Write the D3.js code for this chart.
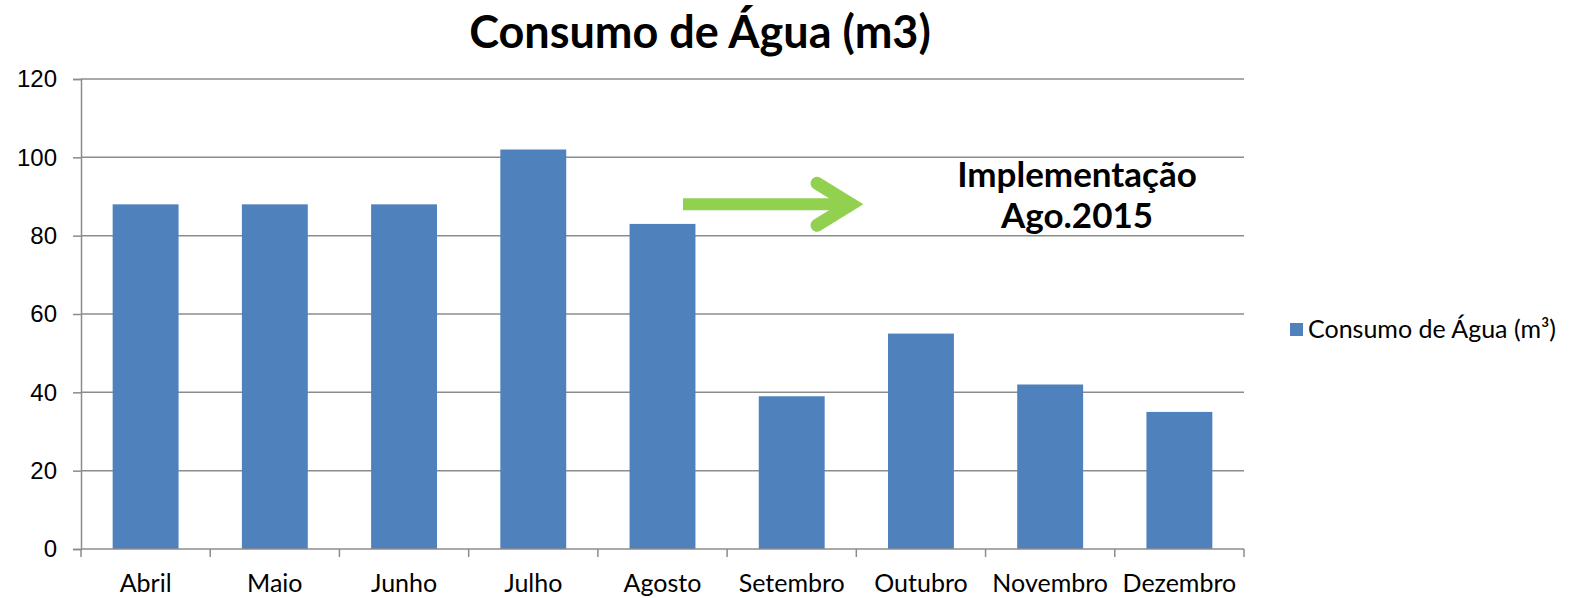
<!DOCTYPE html>
<html>
<head>
<meta charset="utf-8">
<script src="https://cdn.jsdelivr.net/npm/d3@7"></script>
<style>
    body { margin: 0; background: #fff; }
    svg { display: block; font-family: Lato, "Open Sans", sans-serif; }
</style>
</head>
<body>
<div id="chart"></div>
<script>
// --- Data ---
const months = ['Abril', 'Maio', 'Junho', 'Julho', 'Agosto', 'Setembro', 'Outubro', 'Novembro', 'Dezembro'];
const consumo = [88, 88, 88, 102, 83, 39, 55, 42, 35];
const yTicks = [0, 20, 40, 60, 80, 100, 120];
const seriesName = 'Consumo de Água (m³)';
const chartTitle = 'Consumo de Água (m3)';
const noteLines = ['Implementação', 'Ago.2015'];

// --- Layout ---
const width = 1572, height = 598;
const margin = { top: 79, right: 328, bottom: 49, left: 81 };
const innerW = width - margin.left - margin.right;
const innerH = height - margin.top - margin.bottom;

const svg = d3.select('#chart')
    .append('svg')
    .attr('width', width)
    .attr('height', height);

const g = svg.append('g')
    .attr('transform', `translate(${margin.left},${margin.top})`);

const x = d3.scaleBand().domain(months).range([0, innerW]).paddingInner(0.49).paddingOuter(0.245);
const xEdge = d3.scaleLinear().domain([0, months.length]).range([0, innerW]);
const y = d3.scaleLinear().domain([0, 120]).range([innerH, 0]);

// gridlines
g.append('g')
    .selectAll('line')
    .data(yTicks.filter(d => d > 0))
    .enter()
    .append('line')
    .attr('x1', 0)
    .attr('x2', innerW)
    .attr('y1', d => y(d))
    .attr('y2', d => y(d))
    .attr('stroke', '#8c8c8c')
    .attr('stroke-width', 1.5);

// bars
g.append('g')
    .selectAll('rect')
    .data(months)
    .enter()
    .append('rect')
    .attr('x', d => x(d))
    .attr('y', (d, i) => y(consumo[i]))
    .attr('width', x.bandwidth())
    .attr('height', (d, i) => innerH - y(consumo[i]))
    .attr('fill', '#4f81bd');

// y axis
const yAxis = g.append('g')
    .call(d3.axisLeft(y).tickValues(yTicks).tickSize(8).tickPadding(16));
yAxis.select('.domain').attr('stroke', '#8c8c8c').attr('stroke-width', 1.5);
yAxis.selectAll('.tick line').attr('stroke', '#8c8c8c').attr('stroke-width', 1.5);
yAxis.selectAll('text').attr('font-size', 24).attr('fill', '#000');

// x axis (ticks sit on the category boundaries)
const xAxisG = g.append('g').attr('transform', `translate(0,${innerH})`);
xAxisG.append('line')
    .attr('x1', 0).attr('x2', innerW)
    .attr('stroke', '#8c8c8c').attr('stroke-width', 1.5);
xAxisG.selectAll('.edge')
    .data(d3.range(months.length + 1))
    .enter()
    .append('line')
    .attr('x1', d => xEdge(d))
    .attr('x2', d => xEdge(d))
    .attr('y1', 0).attr('y2', 8)
    .attr('stroke', '#8c8c8c').attr('stroke-width', 1.5);
xAxisG.selectAll('text')
    .data(months)
    .enter()
    .append('text')
    .attr('x', d => x(d) + x.bandwidth() / 2)
    .attr('y', 43)
    .attr('text-anchor', 'middle')
    .attr('font-size', 25)
    .text(d => d);

// title
svg.append('text')
    .attr('x', 700)
    .attr('y', 48)
    .attr('text-anchor', 'middle')
    .attr('font-size', 45)
    .attr('font-weight', 'bold')
    .text(chartTitle);

// arrow annotation
const arrowY = margin.top + y(88);
const arrow = svg.append('g')
    .attr('stroke', '#92d050')
    .attr('fill', 'none');
arrow.append('line')
    .attr('x1', 683).attr('x2', 850)
    .attr('y1', arrowY).attr('y2', arrowY)
    .attr('stroke-width', 12);
arrow.append('path')
    .attr('d', `M817,${arrowY - 21} L851,${arrowY} L817,${arrowY + 21}`)
    .attr('stroke-width', 13)
    .attr('stroke-linecap', 'round')
    .attr('stroke-linejoin', 'miter');

svg.selectAll('.note')
    .data(noteLines)
    .enter()
    .append('text')
    .attr('class', 'note')
    .attr('x', 1077)
    .attr('y', (d, i) => 187 + i * 41)
    .attr('text-anchor', 'middle')
    .attr('font-size', 35)
    .attr('font-weight', 'bold')
    .text(d => d);

// legend
const legend = svg.append('g').attr('transform', 'translate(1290,323)');
legend.append('rect')
    .attr('width', 13).attr('height', 13)
    .attr('fill', '#4f81bd');
legend.append('text')
    .attr('x', 18)
    .attr('y', 15)
    .attr('font-size', 25)
    .text(seriesName);
</script>
</body>
</html>
